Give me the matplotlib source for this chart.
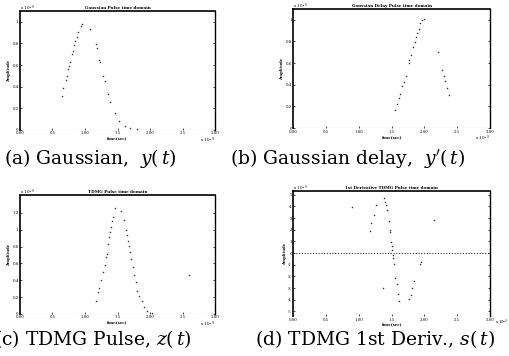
import matplotlib.pyplot as plt

# (a) Gaussian
ga_x = [0.641, 0.667, 0.708, 0.718, 0.744, 0.759, 0.769, 0.795, 0.810, 0.831, 0.846,
        0.882, 0.897, 0.938, 0.959, 1.077, 1.164, 1.179, 1.215, 1.231, 1.277, 1.308,
        1.349, 1.385, 1.462, 1.523, 1.615, 1.692, 1.795]
ga_y = [0.315, 0.391, 0.465, 0.502, 0.566, 0.596, 0.627, 0.703, 0.734, 0.786, 0.826,
        0.862, 0.902, 0.963, 0.979, 0.933, 0.795, 0.755, 0.648, 0.627, 0.495, 0.453,
        0.330, 0.260, 0.153, 0.086, 0.037, 0.015, 0.006]

# (b) Gaussian delay
gd_x = [1.556, 1.581, 1.606, 1.632, 1.657, 1.682, 1.718, 1.758, 1.768, 1.794, 1.819,
        1.850, 1.870, 1.885, 1.910, 1.936, 1.961, 1.986, 2.199, 2.265, 2.291, 2.316,
        2.341, 2.367]
gd_y = [0.169, 0.225, 0.277, 0.317, 0.391, 0.422, 0.483, 0.600, 0.631, 0.677, 0.748,
        0.791, 0.840, 0.877, 0.914, 0.969, 0.994, 1.006, 0.702, 0.532, 0.483, 0.431,
        0.369, 0.308]

# (c) TDMG pulse
tp_x = [1.164, 1.205, 1.215, 1.246, 1.282, 1.308, 1.323, 1.333, 1.349, 1.374, 1.385,
        1.400, 1.410, 1.426, 1.462, 1.554, 1.600, 1.626, 1.641, 1.656, 1.677, 1.692,
        1.708, 1.733, 1.754, 1.779, 1.805, 1.836, 1.872, 1.913, 1.949, 2.026, 2.590]
tp_y = [0.150, 0.257, 0.305, 0.404, 0.495, 0.582, 0.673, 0.713, 0.832, 0.911, 0.970,
        1.030, 1.101, 1.149, 1.259, 1.220, 1.109, 0.998, 0.931, 0.871, 0.812, 0.733,
        0.653, 0.554, 0.463, 0.376, 0.277, 0.218, 0.158, 0.079, 0.040, 0.008, 0.467]

# (d) TDMG 1st derivative
td_x = [0.897, 1.166, 1.191, 1.226, 1.262, 1.378, 1.404, 1.419, 1.429, 1.454, 1.470,
        1.480, 1.490, 1.500, 1.505, 1.515, 1.525, 1.535, 1.556, 1.581, 1.596, 1.617,
        1.769, 1.789, 1.809, 1.840, 1.931, 1.951, 2.144, 1.363]
td_y = [3.94, 1.89, 2.60, 3.23, 4.09, 4.71, 4.37, 4.09, 3.66, 2.74, 2.00,
        1.80, 0.94, 0.57, 0.23, -0.20, -0.43, -0.91, -2.14, -2.63, -3.49, -4.14,
        -3.97, -3.57, -3.00, -2.43, -0.91, -0.77, 2.86, -3.00]

x_ticks = [0, 0.5, 1.0, 1.5, 2.0, 2.5, 3.0]
x_labels = ['0.00', '0.5', '1.00', '1.5', '2.00', '2.5', '3.00']

titles = ['Gaussian Pulse time domain', 'Gaussian Delay Pulse time domain',
          'TDMG Pulse time domain', '1st Derivative TDMG Pulse time domain']
captions = ['(a) Gaussian,  $y(\\,t)$', "(b) Gaussian delay,  $y^{\\prime}(\\,t)$",
            '(c) TDMG Pulse, $z(\\,t)$', '(d) TDMG 1st Deriv., $s(\\,t)$']

plt.rcParams['font.family'] = 'DejaVu Serif'
plt.rcParams['mathtext.fontset'] = 'dejavuserif'

fig = plt.figure(figsize=(5.1, 3.56), dpi=100)
boxes = [[0.039, 0.635, 0.383, 0.334],
         [0.575, 0.640, 0.386, 0.335],
         [0.039, 0.118, 0.383, 0.334],
         [0.575, 0.112, 0.386, 0.351]]
data = [(ga_x, ga_y), (gd_x, gd_y), (tp_x, tp_y), (td_x, td_y)]
ylims = [(0, 1.1), (0, 1.1), (0, 1.41), (-5.4, 5.3)]
yticks = [[0, 0.2, 0.4, 0.6, 0.8, 1.0], [0, 0.2, 0.4, 0.6, 0.8, 1.0],
          [0, 0.2, 0.4, 0.6, 0.8, 1.0, 1.2], list(range(-5, 6))]

for i, (bx, (xs, ys)) in enumerate(zip(boxes, data)):
    ax = fig.add_axes(bx)
    ax.plot(xs, ys, linestyle='none', marker='o', markersize=1.1,
            color='#333333', markeredgewidth=0)
    ax.axhline(0, color='#333333', linestyle=(0, (1, 1.5)), linewidth=0.8)
    ax.set_xlim(0, 3)
    ax.set_ylim(*ylims[i])
    ax.set_xticks(x_ticks)
    ax.set_xticklabels(x_labels)
    ax.set_yticks(yticks[i])
    ax.set_yticklabels([('%g' % v) for v in yticks[i]])
    ax.tick_params(labelsize=2.8, length=1.5, width=0.5, pad=1,
                   direction='in', right=True, top=False)
    for side in ['top', 'left']:
        ax.spines[side].set_linewidth(1.2)
    ax.spines['right'].set_linewidth(1.0)
    ax.spines['right'].set_linestyle((0, (6, 1)))
    ax.spines['bottom'].set_visible(False)
    ax.set_title(titles[i], fontsize=3, fontweight='bold', pad=1.5)
    ax.set_xlabel('time(sec)', fontsize=2.8, labelpad=1, fontweight='bold')
    ax.set_ylabel('Amplitude', fontsize=2.8, labelpad=1, fontweight='bold')
    ax.text(0.0, 1.01, 'x 10$^{-9}$', transform=ax.transAxes, fontsize=3)
    if i == 3:
        fig.text(508 / 510, 1 - 318 / 356, 'x 10$^{-9}$', fontsize=2.6,
                 ha='right', va='top')
    else:
        ax.text(1.0, -0.05, 'x 10$^{-9}$', transform=ax.transAxes,
                fontsize=3, ha='right', va='top')

fig.text(4 / 510, 1 - 164 / 356, captions[0], fontsize=13.5, va='baseline')
fig.text(230 / 510, 1 - 164 / 356, captions[1], fontsize=13.5, va='baseline')
fig.text(-6 / 510, 1 - 345 / 356, captions[2], fontsize=13.5, va='baseline')
fig.text(255 / 510, 1 - 345 / 356, captions[3], fontsize=13.5, va='baseline')

fig.savefig('out.png', dpi=100)
